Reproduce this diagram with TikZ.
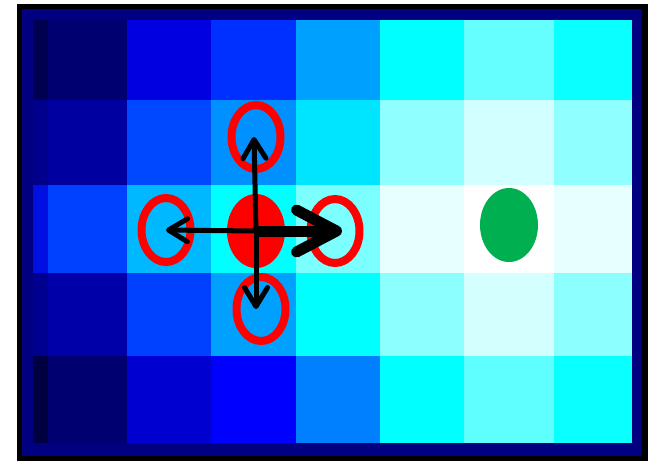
\documentclass[tikz,border=0pt]{standalone}
\usepackage{xcolor}
\usepackage{tikz}
\usetikzlibrary{arrows.meta, shapes.geometric}

\definecolor{framenavy}{HTML}{000080}
\definecolor{sourcered}{HTML}{FF0000}
\definecolor{goalgreen}{HTML}{00B050}

\begin{document}
\begin{tikzpicture}[
  x=0.02cm, y=-0.02cm,
  spot/.style={ellipse, inner sep=0pt, minimum width=1.16cm, minimum height=1.48cm},
  source/.style={spot, fill=sourcered},
  goal/.style={spot, fill=goalgreen},
  probe/.style={ellipse, inner sep=0pt, draw=sourcered, line width=0.16cm, minimum width=0.98cm, minimum height=1.28cm},
  move/.style={line width=0.1cm, -{Straight Barb[length=0.38cm, width=0.46cm, round]}},
  bestmove/.style={line width=0.22cm, -{Straight Barb[length=0.8cm, width=0.84cm, round]}, shorten >=-0.14cm}
]
  \useasboundingbox (0,0) rectangle (650,461);

  % Frame
  \draw[line width=0.11cm, fill=framenavy] (19.5,6.5) rectangle (645,458.5);

  % Row 0
  \foreach \xa/\xb/\hex in {33/48/000050, 48/127/000070, 127/211/0000E0, 211/296/0030FF,
                            296/380/00A0FF, 380/464/00FFFF, 464/554/66FFFF, 554/632/0AFFFF}
    {\definecolor{cellcol}{HTML}{\hex}\fill[cellcol] (\xa,20) rectangle (\xb,100);}

  % Row 1
  \foreach \xa/\xb/\hex in {33/48/00008C, 48/127/0000A0, 127/211/0048FF, 211/296/0090FF,
                            296/380/00E5FF, 380/464/90FFFF, 464/554/D2FFFF, 554/632/90FFFF}
    {\definecolor{cellcol}{HTML}{\hex}\fill[cellcol] (\xa,100) rectangle (\xb,185);}

  % Row 2
  \foreach \xa/\xb/\hex in {33/48/0010E0, 48/127/0040FF, 127/211/00B8FF, 211/296/00FFFF,
                            296/380/7CFFFF, 380/464/E8FFFF, 464/554/FFFFFF, 554/632/E8FFFF}
    {\definecolor{cellcol}{HTML}{\hex}\fill[cellcol] (\xa,185) rectangle (\xb,273);}

  % Row 3
  \foreach \xa/\xb/\hex in {33/48/000090, 48/127/0000A8, 127/211/0040FF, 211/296/00A0FF,
                            296/380/00FFFF, 380/464/8CFFFF, 464/554/D4FFFF, 554/632/8CFFFF}
    {\definecolor{cellcol}{HTML}{\hex}\fill[cellcol] (\xa,273) rectangle (\xb,356);}

  % Row 4
  \foreach \xa/\xb/\hex in {33/48/000040, 48/127/000070, 127/211/0000D0, 211/296/0000FF,
                            296/380/0080FF, 380/464/00FFFF, 464/554/60FFFF, 554/632/0AFFFF}
    {\definecolor{cellcol}{HTML}{\hex}\fill[cellcol] (\xa,356) rectangle (\xb,443);}

  % Spots
  \node[source] (src)   at (256,231) {};
  \node[goal]   (goal)  at (509,225) {};
  \node[probe]  (up)    at (256,137) {};
  \node[probe]  (down)  at (261,309) {};
  \node[probe]  (left)  at (166,230) {};
  \node[probe]  (right) at (335,231) {};

  % Moves
  \draw[move] (src.center) -- ([xshift=-0.04cm]up.center);
  \draw[move] (src.center) -- (src.center |- down.center);
  \draw[move] (src.center) -- (left.center);
  \draw[bestmove] (src.center) -- (right.center);

\end{tikzpicture}
\end{document}
